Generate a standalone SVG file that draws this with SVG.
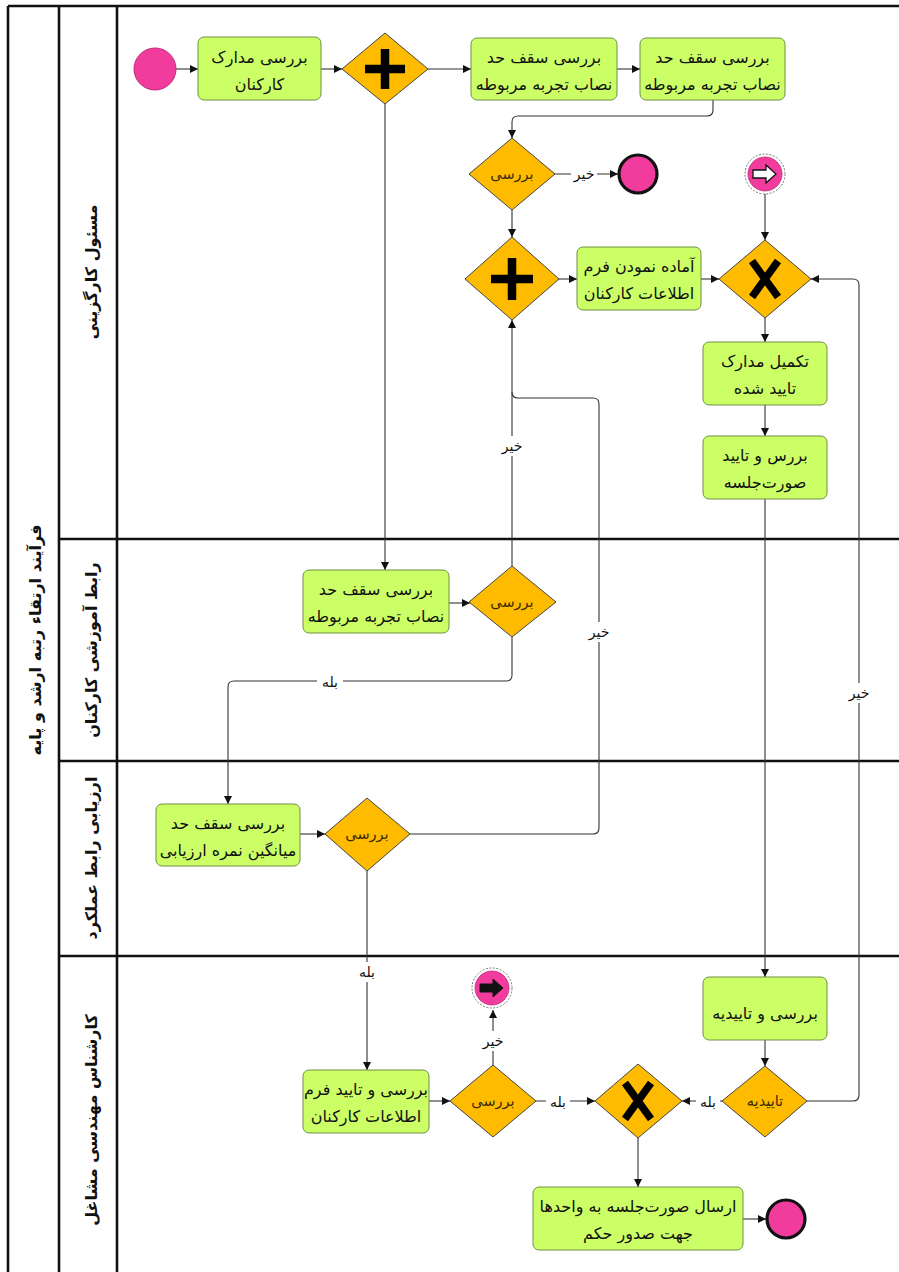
<svg xmlns="http://www.w3.org/2000/svg" width="899" height="1272" viewBox="0 0 899 1272">
<style>
.frame{stroke:#111;stroke-width:2.6;fill:none}
.task{fill:#CCFF66;stroke:#6f8f45;stroke-width:1}
.gw{fill:#FFBB00;stroke:#444;stroke-width:1}
.t{font-family:"DejaVu Sans",sans-serif;font-size:16px;fill:#111;text-anchor:middle}
.gt{font-family:"DejaVu Sans",sans-serif;font-size:14.5px;fill:#3a2a00;text-anchor:middle}
.lbl{font-family:"DejaVu Sans",sans-serif;font-size:14px;fill:#111;text-anchor:middle}
.lane{font-family:"DejaVu Sans",sans-serif;font-size:16px;font-weight:bold;fill:#111;text-anchor:middle}
.c{fill:none;stroke:#333;stroke-width:1.1}
.ca{fill:none;stroke:#333;stroke-width:1.1;marker-end:url(#ah)}
.lb{fill:#fff}
.sev{fill:#F23C9D;stroke:#c02a7a;stroke-width:1}
.eev{fill:#F23C9D;stroke:#111;stroke-width:3.2}
.mark{stroke:#000;stroke-width:8.5;fill:none}
</style>
<defs>
<marker id="ah" viewBox="0 0 10 10" refX="10" refY="5" markerWidth="8" markerHeight="8" markerUnits="userSpaceOnUse" orient="auto">
<path d="M0 0 L10 5 L0 10 z" fill="#111"/>
</marker>
</defs>
<rect width="899" height="1272" fill="#fff"/>

<g id="pool">
<line class="frame" x1="8" y1="6" x2="899" y2="6"/>
<line class="frame" x1="8" y1="6" x2="8" y2="1272"/>
<line class="frame" x1="59" y1="6" x2="59" y2="1272"/>
<line class="frame" x1="117" y1="6" x2="117" y2="1272"/>
<line class="frame" x1="59" y1="539" x2="899" y2="539"/>
<line class="frame" x1="59" y1="761" x2="899" y2="761"/>
<line class="frame" x1="59" y1="956" x2="899" y2="956"/>
<text class="lane" transform="translate(41,640) rotate(-90)">فرآیند ارتقاء رتبه ارشد و پایه</text>
<text class="lane" transform="translate(97,272) rotate(-90)">مسئول کارگزینی</text>
<text class="lane" transform="translate(97,650) rotate(-90)">رابط آموزشی کارکنان</text>
<text class="lane" transform="translate(97,858) rotate(-90)">ارزیابی رابط عملکرد</text>
<text class="lane" transform="translate(97,1120) rotate(-90)">کارشناس مهندسی مشاغل</text>
</g>

<g id="connectors">
<path class="ca" d="M176 69 H198"/>
<path class="ca" d="M321 69 H342"/>
<path class="ca" d="M428 69 H471"/>
<path class="ca" d="M617 69 H640"/>
<path class="ca" d="M713 100 V110 Q713 116 707 116 H518 Q512 116 512 122 V138"/>
<path class="ca" d="M555 174 H618"/>
<path class="ca" d="M512 210 V237"/>
<path class="ca" d="M559 279 H577"/>
<path class="ca" d="M701 279 H719"/>
<path class="ca" d="M765 194 V240"/>
<path class="ca" d="M765 318 V342"/>
<path class="ca" d="M765 405 V436"/>
<path class="ca" d="M765 499 V977"/>
<path class="ca" d="M385 104 V570"/>
<path class="ca" d="M449 603 H470"/>
<path class="ca" d="M512 566 V320"/>
<path class="c" d="M410 834 H593 Q599 834 599 828 V404 Q599 398 593 398 H518 Q512 398 512 392"/>
<path class="ca" d="M512 637 V675 Q512 681 506 681 H234 Q228 681 228 687 V804"/>
<path class="ca" d="M300 834 H325"/>
<path class="ca" d="M367 871 V1070"/>
<path class="ca" d="M429 1101 H450"/>
<path class="ca" d="M493 1065 V1010"/>
<path class="ca" d="M536 1101 H595"/>
<path class="ca" d="M765 1040 V1066"/>
<path class="ca" d="M722 1101 H682"/>
<path class="ca" d="M807 1101 H853 Q859 1101 859 1095 V285 Q859 279 853 279 H811"/>
<path class="ca" d="M638 1138 V1187"/>
<path class="ca" d="M743 1219 H766"/>
<rect class="lb" x="571" y="164" width="26" height="20"/>
<text class="lbl" x="584" y="179">خیر</text>
<rect class="lb" x="499" y="436" width="26" height="20"/>
<text class="lbl" x="512" y="451">خیر</text>
<rect class="lb" x="586" y="622" width="26" height="20"/>
<text class="lbl" x="599" y="637">خیر</text>
<rect class="lb" x="317" y="672" width="26" height="20"/>
<text class="lbl" x="330" y="687">بله</text>
<rect class="lb" x="354" y="962" width="26" height="20"/>
<text class="lbl" x="367" y="977">بله</text>
<rect class="lb" x="480" y="1031" width="26" height="20"/>
<text class="lbl" x="493" y="1046">خیر</text>
<rect class="lb" x="546" y="1092" width="24" height="20"/>
<text class="lbl" x="558" y="1107">بله</text>
<rect class="lb" x="696" y="1092" width="24" height="20"/>
<text class="lbl" x="708" y="1107">بله</text>
<rect class="lb" x="846" y="683" width="26" height="20"/>
<text class="lbl" x="859" y="698">خیر</text>
</g>

<g id="start1"><circle class="sev" cx="155" cy="69" r="21"/></g>

<g id="task1">
<rect class="task" x="198" y="37" width="123" height="63" rx="6"/>
<text class="t" x="259.5" y="63">بررسی مدارک</text>
<text class="t" x="259.5" y="90">کارکنان</text>
</g>

<g id="pgw1">
<polygon class="gw" points="385,33 428,69 385,104 342,69"/>
<path class="mark" d="M385 49 V89 M365 69 H405"/>
</g>

<g id="task2">
<rect class="task" x="471" y="38" width="146" height="62" rx="6"/>
<text class="t" x="544" y="63">بررسی سقف حد</text>
<text class="t" x="544" y="90">نصاب تجربه مربوطه</text>
</g>

<g id="task3">
<rect class="task" x="640" y="38" width="145" height="62" rx="6"/>
<text class="t" x="712.5" y="63">بررسی سقف حد</text>
<text class="t" x="712.5" y="90">نصاب تجربه مربوطه</text>
</g>

<g id="dec1">
<polygon class="gw" points="512,138 555,174 512,210 469,174"/>
<text class="gt" x="512" y="179">بررسی</text>
</g>

<g id="end1"><circle class="eev" cx="638" cy="174" r="19"/></g>

<g id="pgw2">
<polygon class="gw" points="512,237 559,279 512,320 465,279"/>
<path class="mark" d="M512 258 V300 M491 279 H533"/>
</g>

<g id="task4">
<rect class="task" x="577" y="247" width="124" height="63" rx="6"/>
<text class="t" x="639" y="272">آماده نمودن فرم</text>
<text class="t" x="639" y="299">اطلاعات کارکنان</text>
</g>

<g id="xgw1">
<polygon class="gw" points="765,240 811,279 765,318 719,279"/>
<path class="mark" d="M752 261 L778 297 M778 261 L752 297" style="stroke-width:7.5"/>
</g>

<g id="ievent1">
<circle cx="765" cy="174" r="20" fill="#fff" stroke="#555" stroke-width="0.8" stroke-dasharray="2 1.5"/>
<circle cx="765" cy="174" r="17" fill="#F23C9D" stroke="#c02a7a" stroke-width="0.8"/>
<path d="M753 170 H766 V165 L776 174 L766 183 V178 H753 Z" fill="#fff" stroke="#111" stroke-width="1.3"/>
</g>

<g id="task5">
<rect class="task" x="703" y="342" width="124" height="63" rx="6"/>
<text class="t" x="765" y="367">تکمیل مدارک</text>
<text class="t" x="765" y="394">تایید شده</text>
</g>

<g id="task6">
<rect class="task" x="703" y="436" width="124" height="63" rx="6"/>
<text class="t" x="765" y="461">بررس و تایید</text>
<text class="t" x="765" y="488">صورت&#8204;جلسه</text>
</g>

<g id="task7">
<rect class="task" x="303" y="570" width="146" height="63" rx="6"/>
<text class="t" x="376" y="595">بررسی سقف حد</text>
<text class="t" x="376" y="622">نصاب تجربه مربوطه</text>
</g>

<g id="dec2">
<polygon class="gw" points="512,566 556,602 512,637 469,602"/>
<text class="gt" x="512" y="607">بررسی</text>
</g>

<g id="task8">
<rect class="task" x="156" y="804" width="144" height="62" rx="6"/>
<text class="t" x="228" y="829">بررسی سقف حد</text>
<text class="t" x="228" y="856">میانگین نمره ارزیابی</text>
</g>

<g id="dec3">
<polygon class="gw" points="367,798 410,834 367,871 325,834"/>
<text class="gt" x="367" y="839">بررسی</text>
</g>

<g id="task9">
<rect class="task" x="303" y="1070" width="126" height="63" rx="6"/>
<text class="t" x="366" y="1095">بررسی و تایید فرم</text>
<text class="t" x="366" y="1122">اطلاعات کارکنان</text>
</g>

<g id="dec4">
<polygon class="gw" points="493,1065 536,1101 493,1137 450,1101"/>
<text class="gt" x="493" y="1106">بررسی</text>
</g>

<g id="ievent2">
<circle cx="492" cy="988" r="20" fill="#fff" stroke="#555" stroke-width="0.8" stroke-dasharray="2 1.5"/>
<circle cx="492" cy="988" r="17" fill="#F23C9D" stroke="#c02a7a" stroke-width="0.8"/>
<path d="M480 984 H493 V979 L503 988 L493 997 V992 H480 Z" fill="#111" stroke="#111" stroke-width="1"/>
</g>

<g id="xgw2">
<polygon class="gw" points="638,1064 682,1101 638,1138 595,1101"/>
<path class="mark" d="M625 1083 L651 1119 M651 1083 L625 1119" style="stroke-width:7.5"/>
</g>

<g id="task10">
<rect class="task" x="703" y="977" width="124" height="63" rx="6"/>
<text class="t" x="765" y="1019">بررسی و تاییدیه</text>
</g>

<g id="dec5">
<polygon class="gw" points="765,1066 807,1101 765,1137 722,1101"/>
<text class="gt" x="765" y="1106">تاییدیه</text>
</g>

<g id="task11">
<rect class="task" x="533" y="1187" width="210" height="63" rx="6"/>
<text class="t" x="638" y="1212">ارسال صورت&#8204;جلسه به واحدها</text>
<text class="t" x="638" y="1239">جهت صدور حکم</text>
</g>

<g id="end2"><circle class="eev" cx="786" cy="1219" r="19"/></g>
</svg>
